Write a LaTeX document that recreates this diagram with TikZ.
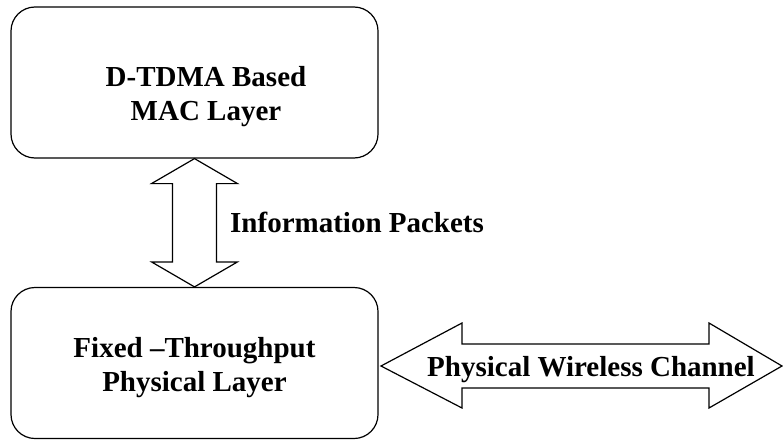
\documentclass[tikz,border=0pt]{standalone}
\usepackage{fontspec}
\setmainfont{Liberation Serif}
\usetikzlibrary{calc}
\begin{document}
\begin{tikzpicture}[x=1pt,y=-1pt,
  layerbox/.style={draw=black,line width=1.2pt,rounded corners=24pt,minimum width=367pt,minimum height=151pt,inner sep=0pt},
  blockarrow/.style={draw=black,line width=1.2pt,fill=white,line join=miter},
  lbl/.style={font=\fontsize{29}{34}\selectfont\bfseries,inner sep=0pt,align=center}]
\useasboundingbox (0,0) rectangle (783,439);
\node[layerbox] (top) at (194.5,82.5) {};
\node[layerbox] (bot) at (194.5,363) {};
\node[lbl] (toptext) at (206,97) {D-TDMA Based\\MAC Layer};
\node[lbl] (bottext) at (194.5,368) {Fixed –Throughput\\Physical Layer};
% vertical double block arrow between the layers
\coordinate (vt) at (top.south);
\coordinate (vb) at (bot.north);
\draw[blockarrow] (vt) -- ++(43,25) -- ++(-21,0) -- ($(vb)+(22,-25)$) -- ++(21,0) -- (vb)
  -- ++(-43,-25) -- ++(21,0) -- ($(vt)+(-22,25)$) -- ++(-21,0) -- cycle;
\node[lbl,anchor=base west] (info) at (230,232) {Information Packets};
% horizontal double block arrow
\coordinate (hl) at (381,366);
\coordinate (hr) at (782,366);
\draw[blockarrow] (hl) -- (462,323) -- (462,344) -- (709,344) -- (709,323) -- (hr)
  -- (709,408) -- (709,388) -- (462,388) -- (462,408) -- cycle;
\node[lbl,anchor=base] (chan) at (591,376) {Physical Wireless Channel};
\end{tikzpicture}
\end{document}
